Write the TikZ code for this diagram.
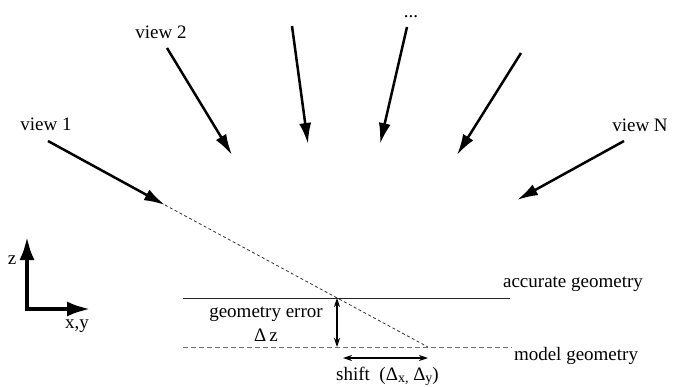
\documentclass[tikz,border=0pt]{standalone}
\usepackage{fontspec}
\setmainfont{Liberation Serif}
\usetikzlibrary{arrows.meta}
\begin{document}
\begin{tikzpicture}[x=1pt,y=-1pt,
  lbl/.style={font=\fontsize{19}{21}\selectfont, inner sep=0pt},
  viewarrow/.style={line width=2.5pt, -{Latex[length=21pt,width=12pt]}},
  axisarrow/.style={line width=4.5pt, -{Latex[length=24pt,width=15pt]}},
  dimarrow/.style={line width=1.1pt, {Stealth[length=9pt,width=6pt]}-{Stealth[length=9pt,width=6pt]}},
  ray/.style={line width=0.8pt, dash pattern=on 3pt off 2.5pt, black!80},
  modelline/.style={line width=1pt, dash pattern=on 5pt off 3pt, black!55},
  accline/.style={line width=1pt, black!85}]
\useasboundingbox (0,0) rectangle (678,386);

% view labels
\node[lbl] (v1) at (46,124) {view 1};
\node[lbl] (v2) at (161,32) {view 2};
\node[lbl, anchor=base] (vdots) at (411,17) {...};
\node[lbl] (vN) at (640,125) {view N};

% arrow endpoints
\coordinate (a1s) at (48,141);  \coordinate (a1e) at (165,205);
\coordinate (a2s) at (167,48);  \coordinate (a2e) at (232,155);
\coordinate (a3s) at (292,26);  \coordinate (a3e) at (308,144);
\coordinate (a4s) at (407,27);  \coordinate (a4e) at (380,144);
\coordinate (a5s) at (521,53);  \coordinate (a5e) at (457,155);
\coordinate (aNs) at (624,141); \coordinate (aNe) at (517,200);

\draw[viewarrow] (a1s) -- (a1e);
\draw[viewarrow] (a2s) -- (a2e);
\draw[viewarrow] (a3s) -- (a3e);
\draw[viewarrow] (a4s) -- (a4e);
\draw[viewarrow] (a5s) -- (a5e);
\draw[viewarrow] (aNs) -- (aNe);

% geometry lines
\coordinate (accL) at (183,298); \coordinate (accR) at (510,298);
\coordinate (modL) at (183,347); \coordinate (modR) at (512,347);
\coordinate (hit) at (337,298);
\coordinate (hitM) at (337,347);
\coordinate (shiftE) at (428,347);
\draw[accline] (accL) -- (accR);
\draw[modelline] (modL) -- (modR);
\draw[ray] (a1e) -- (shiftE);

% dimension arrows
\draw[dimarrow] (hit) -- (hitM);
\coordinate (sL) at (343,358); \coordinate (sR) at (428,358);
\draw[dimarrow] (sL) -- (sR);

% labels
\node[lbl] (acc) at (573,284) {accurate geometry};
\node[lbl] (mod) at (576,356) {model geometry};
\node[lbl] (gerr) at (266,314) {geometry error};
\node[lbl] (dz) at (266,335) {Δ\,z};
\node[lbl, anchor=base west] (shift) at (336,380) {shift\ \ (Δ\raisebox{-0.3ex}{\fontsize{14}{14}\selectfont x,}\ Δ\raisebox{-0.3ex}{\fontsize{14}{14}\selectfont y})};

% axes
\coordinate (org) at (27,309);
\coordinate (zt) at (27,236);
\coordinate (xt) at (91,309);
\draw[axisarrow] ([yshift=-2.25pt]org) -- (zt);
\draw[axisarrow] ([xshift=-2.25pt]org) -- (xt);
\node[lbl] (zl) at (12,260) {z};
\node[lbl] (xyl) at (77,326) {x,y};
\end{tikzpicture}
\end{document}
